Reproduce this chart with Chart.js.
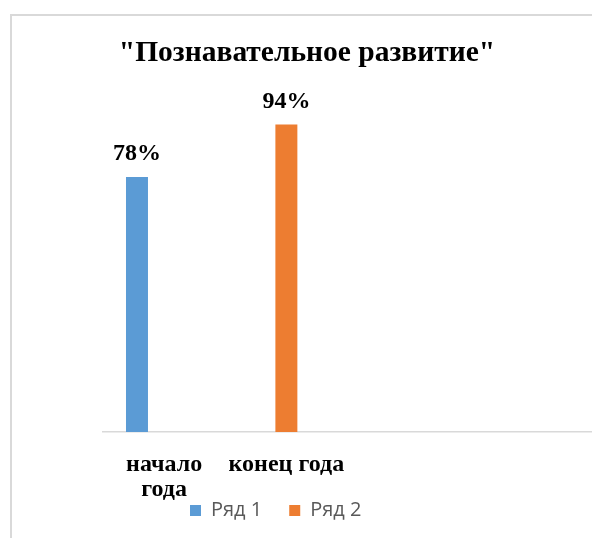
<!DOCTYPE html>
<html><head><meta charset="utf-8">
<script src="https://cdn.jsdelivr.net/npm/chart.js@4"></script>
<style>
html,body{margin:0;padding:0;background:#fff;overflow:hidden}
#frame{position:absolute;left:10px;top:14px;width:700px;height:700px;border-left:2px solid #d9d9d9;border-top:2px solid #d9d9d9;box-sizing:border-box}
#wrap{position:absolute;left:0;top:0;width:592px;height:538px}
</style></head>
<body>
<div id="frame"></div>
<div id="wrap"><canvas id="c" width="592" height="538"></canvas></div>
<script>
const chartTitle = '"Познавательное развитие"';
const categories = [['начало', 'года'], 'конец года', '', ''];
const seriesNames = ['Ряд 1', 'Ряд 2', 'Ряд 3'];
const series1 = [78, null, null, null];
const series2 = [null, 94, null, null];
const series3 = [null, null, null, null];
const seriesColors = ['#5b9bd5', '#ed7d31', '#a5a5a5'];
const yMin = 0, yMax = 100;

const SERIF = '"Times New Roman", "Liberation Serif", serif';
const SANS = '"Open Sans", "Noto Sans", sans-serif';

const valueLabels = {
  id: 'valueLabels',
  afterDatasetsDraw(chart) {
    const ctx = chart.ctx;
    ctx.save();
    ctx.font = 'bold 24px ' + SERIF;
    ctx.fillStyle = '#000';
    ctx.textAlign = 'center';
    ctx.textBaseline = 'alphabetic';
    chart.data.datasets.forEach((ds, i) => {
      const meta = chart.getDatasetMeta(i);
      if (meta.hidden) return;
      meta.data.forEach((el, j) => {
        const v = ds.data[j];
        if (v == null) return;
        ctx.fillText(v + '%', el.x, el.y - 17);
      });
    });
    ctx.restore();
  }
};

const legendPlace = {
  id: 'legendPlace',
  afterLayout(chart) {
    const lg = chart.legend;
    if (!lg) return;
    lg.left = 163;
    lg.top = 473.5;
  }
};

const seriesData = [series1, series2, series3];
new Chart(document.getElementById('c'), {
  type: 'bar',
  data: {
    labels: categories,
    datasets: seriesNames.map((name, i) => ({
      label: name,
      data: seriesData[i],
      backgroundColor: seriesColors[i],
      borderWidth: 0,
      categoryPercentage: 0.666,
      barPercentage: 0.81
    }))
  },
  options: {
    responsive: false,
    animation: false,
    devicePixelRatio: 1,
    layout: { padding: { left: 22, right: 0, top: 0, bottom: 0 } },
    scales: {
      x: {
        grid: { display: false, drawTicks: false },
        border: { display: true, color: '#d9d9d9', width: 1.5 },
        ticks: {
          color: '#000',
          padding: 20,
          maxRotation: 0,
          autoSkip: false,
          font: { family: SERIF, size: 24, weight: 'bold', lineHeight: 1.05 }
        },
        afterFit(s) { s.height = 75; }
      },
      y: {
        min: yMin, max: yMax,
        grid: { display: false, drawTicks: false },
        border: { display: false },
        ticks: { display: false },
        afterFit(s) { s.width = 81; }
      }
    },
    plugins: {
      title: {
        display: true,
        text: chartTitle,
        color: '#000',
        font: { family: SERIF, size: 29.5, weight: 'bold', lineHeight: 1.2 },
        padding: { top: 36, bottom: 33.6 }
      },
      legend: {
        position: 'bottom',
        align: 'start',
        maxHeight: 31,
        labels: {
          boxWidth: 11,
          boxHeight: 11,
          padding: 27,
          color: '#595959',
          font: { family: SANS, size: 20 },
          filter: (item, data) => data.datasets[item.datasetIndex].data.some(v => v != null)
        }
      },
      tooltip: { enabled: false }
    }
  },
  plugins: [valueLabels, legendPlace]
});
</script>
</body></html>
